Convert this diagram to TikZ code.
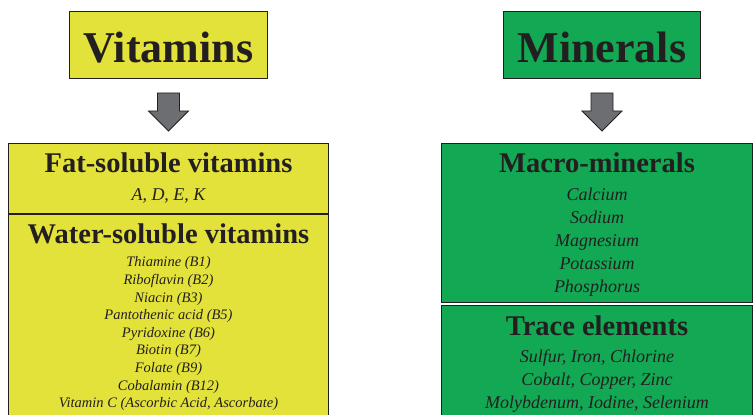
\documentclass[tikz,border=0pt]{standalone}
\usepackage{fontspec}
\setmainfont{Liberation Serif}
\usetikzlibrary{positioning,calc}
\definecolor{vityellow}{RGB}{226,226,58}
\definecolor{mingreen}{RGB}{18,168,84}
\definecolor{inkdark}{RGB}{35,31,32}
\definecolor{arrowgray}{RGB}{109,110,113}

\begin{document}
\begin{tikzpicture}[x=1pt,y=1pt,
    box/.style={draw=inkdark,line width=1pt,inner sep=0pt,anchor=north west},
    title/.style={font=\fontsize{44}{48}\selectfont\bfseries,text=inkdark,anchor=base,inner sep=0pt},
    head/.style={font=\fontsize{28.5}{32}\selectfont\bfseries,text=inkdark,anchor=base,inner sep=0pt},
    vitem/.style={font=\fontsize{14.5}{16}\selectfont\itshape,text=inkdark,anchor=base,inner sep=0pt},
    mitem/.style={font=\fontsize{18}{20}\selectfont\itshape,text=inkdark,anchor=base,inner sep=0pt},
    blockarrow/.style={draw=inkdark,fill=arrowgray,line width=0.8pt,line join=miter}]

    \useasboundingbox (0,0) rectangle (753,415);
    \clip (0,0) rectangle (753,415);

    % top headings
    \node[box,fill=vityellow,minimum width=198,minimum height=67] (vit) at (69,404) {};
    \node[title] (vitt) at ($(vit.south)+(0,16)$) {Vitamins};
    \node[box,fill=mingreen,minimum width=197,minimum height=67] (min) at (503,404) {};
    \node[title] (mint) at ($(min.south)+(0,16)$) {Minerals};

    % block arrows
    \draw[blockarrow,shift={(vit.south)}] (-11,-14) -- (11,-14) -- (11,-32) -- (20,-32) -- (0,-52) -- (-20,-32) -- (-11,-32) -- cycle;
    \draw[blockarrow,shift={(min.south)}] (-11,-14) -- (11,-14) -- (11,-32) -- (20,-32) -- (0,-52) -- (-20,-32) -- (-11,-32) -- cycle;

    % vitamins
    \node[box,fill=vityellow,minimum width=320,minimum height=70] (fat) at (8,272) {};
    \node[box,fill=vityellow,minimum width=320,minimum height=230] (water) at (fat.south west) {};
    \node[head] (fatt) at ($(fat.north)+(0,-30)$) {Fat-soluble vitamins};
    \node[mitem,font=\fontsize{18}{20}\selectfont\itshape] (fatl) at ($(fat.north)+(0,-58)$) {A, D, E, K};
    \node[head] (watert) at ($(water.north)+(0,-30)$) {Water-soluble vitamins};
    \foreach \txt [count=\i from 0] in {Thiamine (B1), Riboflavin (B2), Niacin (B3),
        Pantothenic acid (B5), Pyridoxine (B6), Biotin (B7), Folate (B9),
        Cobalamin (B12), {Vitamin C (Ascorbic Acid, Ascorbate)}}
      \node[vitem] (wv\i) at ($(water.north)+(0,-53-17.6*\i)$) {\txt};

    % minerals
    \node[box,fill=mingreen,minimum width=311,minimum height=159] (macro) at (441,272) {};
    \node[box,fill=mingreen,minimum width=311,minimum height=200] (trace) at ($(macro.south west)+(0,-2)$) {};
    \node[head] (macrot) at ($(macro.north)+(0,-30)$) {Macro-minerals};
    \foreach \txt [count=\i from 0] in {Calcium, Sodium, Magnesium, Potassium, Phosphorus}
      \node[mitem] (mm\i) at ($(macro.north)+(0,-58-23*\i)$) {\txt};
    \node[head] (tracet) at ($(trace.north)+(0,-31)$) {Trace elements};
    \foreach \txt [count=\i from 0] in {{Sulfur, Iron, Chlorine}, {Cobalt, Copper, Zinc},
        {Molybdenum, Iodine, Selenium}}
      \node[mitem] (te\i) at ($(trace.north)+(0,-58-23*\i)$) {\txt};
\end{tikzpicture}
\end{document}
